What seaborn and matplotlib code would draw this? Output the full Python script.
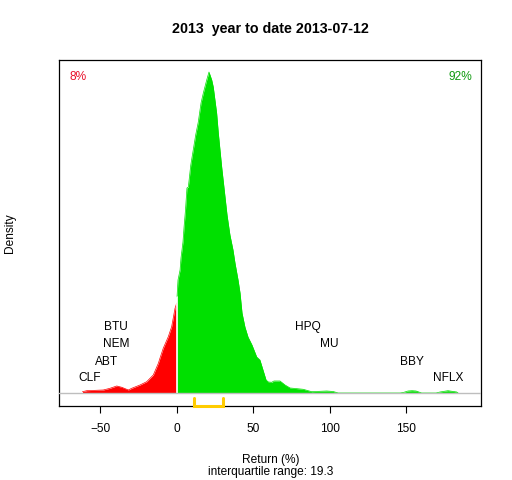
import matplotlib
matplotlib.use('Agg')
import matplotlib.pyplot as plt
import seaborn as sns
import numpy as np

# density curve (return %, density)
ret_neg = [-61.6, -58.8, -48.0, -43.6, -39.2, -35.9, -31.6, -29.4, -24.0, -19.6,
           -15.3, -12.0, -10.9, -8.8, -5.5, -3.3, -1.1, 0.0]
dens_neg = [0.00013, 0.00023, 0.00030, 0.00047, 0.00070, 0.00057, 0.00030, 0.00047,
            0.00080, 0.00113, 0.00180, 0.00297, 0.00350, 0.00447, 0.00563, 0.00663,
            0.00847, 0.00900]

ret_pos = [0.0, 0.2, 0.85, 2.2, 2.8, 4.1, 4.8, 5.75, 6.7, 7.6, 9.2, 10.8, 12.4, 14.1,
           15.9, 17.4, 19.6, 21.1, 22.9, 23.9, 25.0, 26.1, 27.2, 28.3, 29.4, 30.5,
           32.9, 34.8, 36.8, 38.1, 40.1, 41.4, 42.7, 44.6, 46.6, 49.2, 52.3, 54.4,
           56.6, 58.4, 59.9, 62.1, 63.6, 66.2, 67.5, 70.8, 74.1, 76.2, 82.7, 88.2,
           91.0, 98.0, 102.2, 105.6, 146.0, 148.1, 151.2, 153.8, 156.4, 160.1,
           169.5, 172.1, 177.3, 183.0, 183.9]
dens_pos = [0.00960, 0.00960, 0.01130, 0.01230, 0.01350, 0.01510, 0.01660, 0.01830,
            0.02050, 0.02060, 0.02280, 0.02430, 0.02580, 0.02710, 0.02900, 0.03000,
            0.03130, 0.03210, 0.03130, 0.03060, 0.02930, 0.02800, 0.02600, 0.02430,
            0.02260, 0.02110, 0.01780, 0.01580, 0.01430, 0.01300, 0.01130, 0.01000,
            0.00800, 0.00660, 0.00560, 0.00480, 0.00360, 0.00330, 0.00220, 0.00130,
            0.00110, 0.00107, 0.00120, 0.00120, 0.00120, 0.00080, 0.00050, 0.00047,
            0.00037, 0.00013, 0.00015, 0.00020, 0.00015, 0.0, 0.0, 0.00005, 0.00020,
            0.00023, 0.00020, 0.0, 0.0, 0.00010, 0.00023, 0.00010, 0.0]

# extreme stocks and their returns
stocks = ['CLF', 'ABT', 'NEM', 'BTU', 'HPQ', 'MU', 'BBY', 'NFLX']
stock_ret = [-56.6, -45.9, -39.7, -39.7, 85.8, 99.9, 154.0, 177.3]
label_level = [0.00153, 0.00313, 0.0049, 0.0066, 0.0066, 0.0049, 0.00313, 0.00153]

q1, q3 = 11.2, 30.5
pct_neg, pct_pos = '8%', '92%'

sns.set_style('white')
plt.rcParams['font.family'] = ['Liberation Sans', 'DejaVu Sans']
plt.rcParams['text.color'] = 'black'
plt.rcParams['axes.labelcolor'] = 'black'
plt.rcParams['xtick.color'] = 'black'

fig = plt.figure(figsize=(5.12, 4.80), dpi=100)
ax = fig.add_axes([0.1162, 0.1542, 0.8242, 0.7218])

red = '#ff0000'
green = '#00e000'
ax.fill_between(ret_neg, 0, dens_neg, color=red, linewidth=0)
ax.fill_between(ret_pos, 0, dens_pos, color=green, linewidth=0)
sns.lineplot(x=ret_neg, y=dens_neg, color=red, linewidth=0.5, ax=ax, sort=False)
sns.lineplot(x=ret_pos, y=dens_pos, color=green, linewidth=0.5, ax=ax, sort=False)
ax.plot([0, 0], [0, dens_pos[0]], color='white', linewidth=1.2)
ax.axhline(0, color='#bebebe', linewidth=1, zorder=3)

for name, r, lv in zip(stocks, stock_ret, label_level):
    ax.text(r, lv, name, ha='center', va='center', fontsize=8.6, color='black')

ax.text(-64.5, 0.0316, pct_neg, color='#e8102a', fontsize=8.6, ha='center', va='center')
ax.text(185.5, 0.0316, pct_pos, color='#109a10', fontsize=8.6, ha='center', va='center')

ylo, yhi = -0.0013, 0.03335
ax.plot([q1, q1, q3, q3], [-0.0005, ylo, ylo, -0.0005], color='#ffcc00',
        linewidth=2.2, clip_on=False, solid_joinstyle='miter', zorder=5)

ax.set_xlim(-76.6, 199.2)
ax.set_ylim(ylo, yhi)
ax.set_xticks([-50, 0, 50, 100, 150])
ax.set_yticks([])
ax.tick_params(axis='x', length=5, width=0.8, labelsize=8.6, pad=7, color='black',
               labelcolor='black', bottom=True)
for sp in ax.spines.values():
    sp.set_color('black')
    sp.set_linewidth(0.9)

ax.set_title('2013  year to date 2013-07-12', fontsize=10.3, fontweight='bold', pad=19,
             color='black')
ax.set_xlabel('Return (%)\ninterquartile range: 19.3', fontsize=8.6, labelpad=14,
              linespacing=1.0, color='black')
fig.text(0.02, 0.515, 'Density', rotation=90, fontsize=8.6, ha='center', va='center',
         color='black')

plt.savefig('out.png', dpi=100)
